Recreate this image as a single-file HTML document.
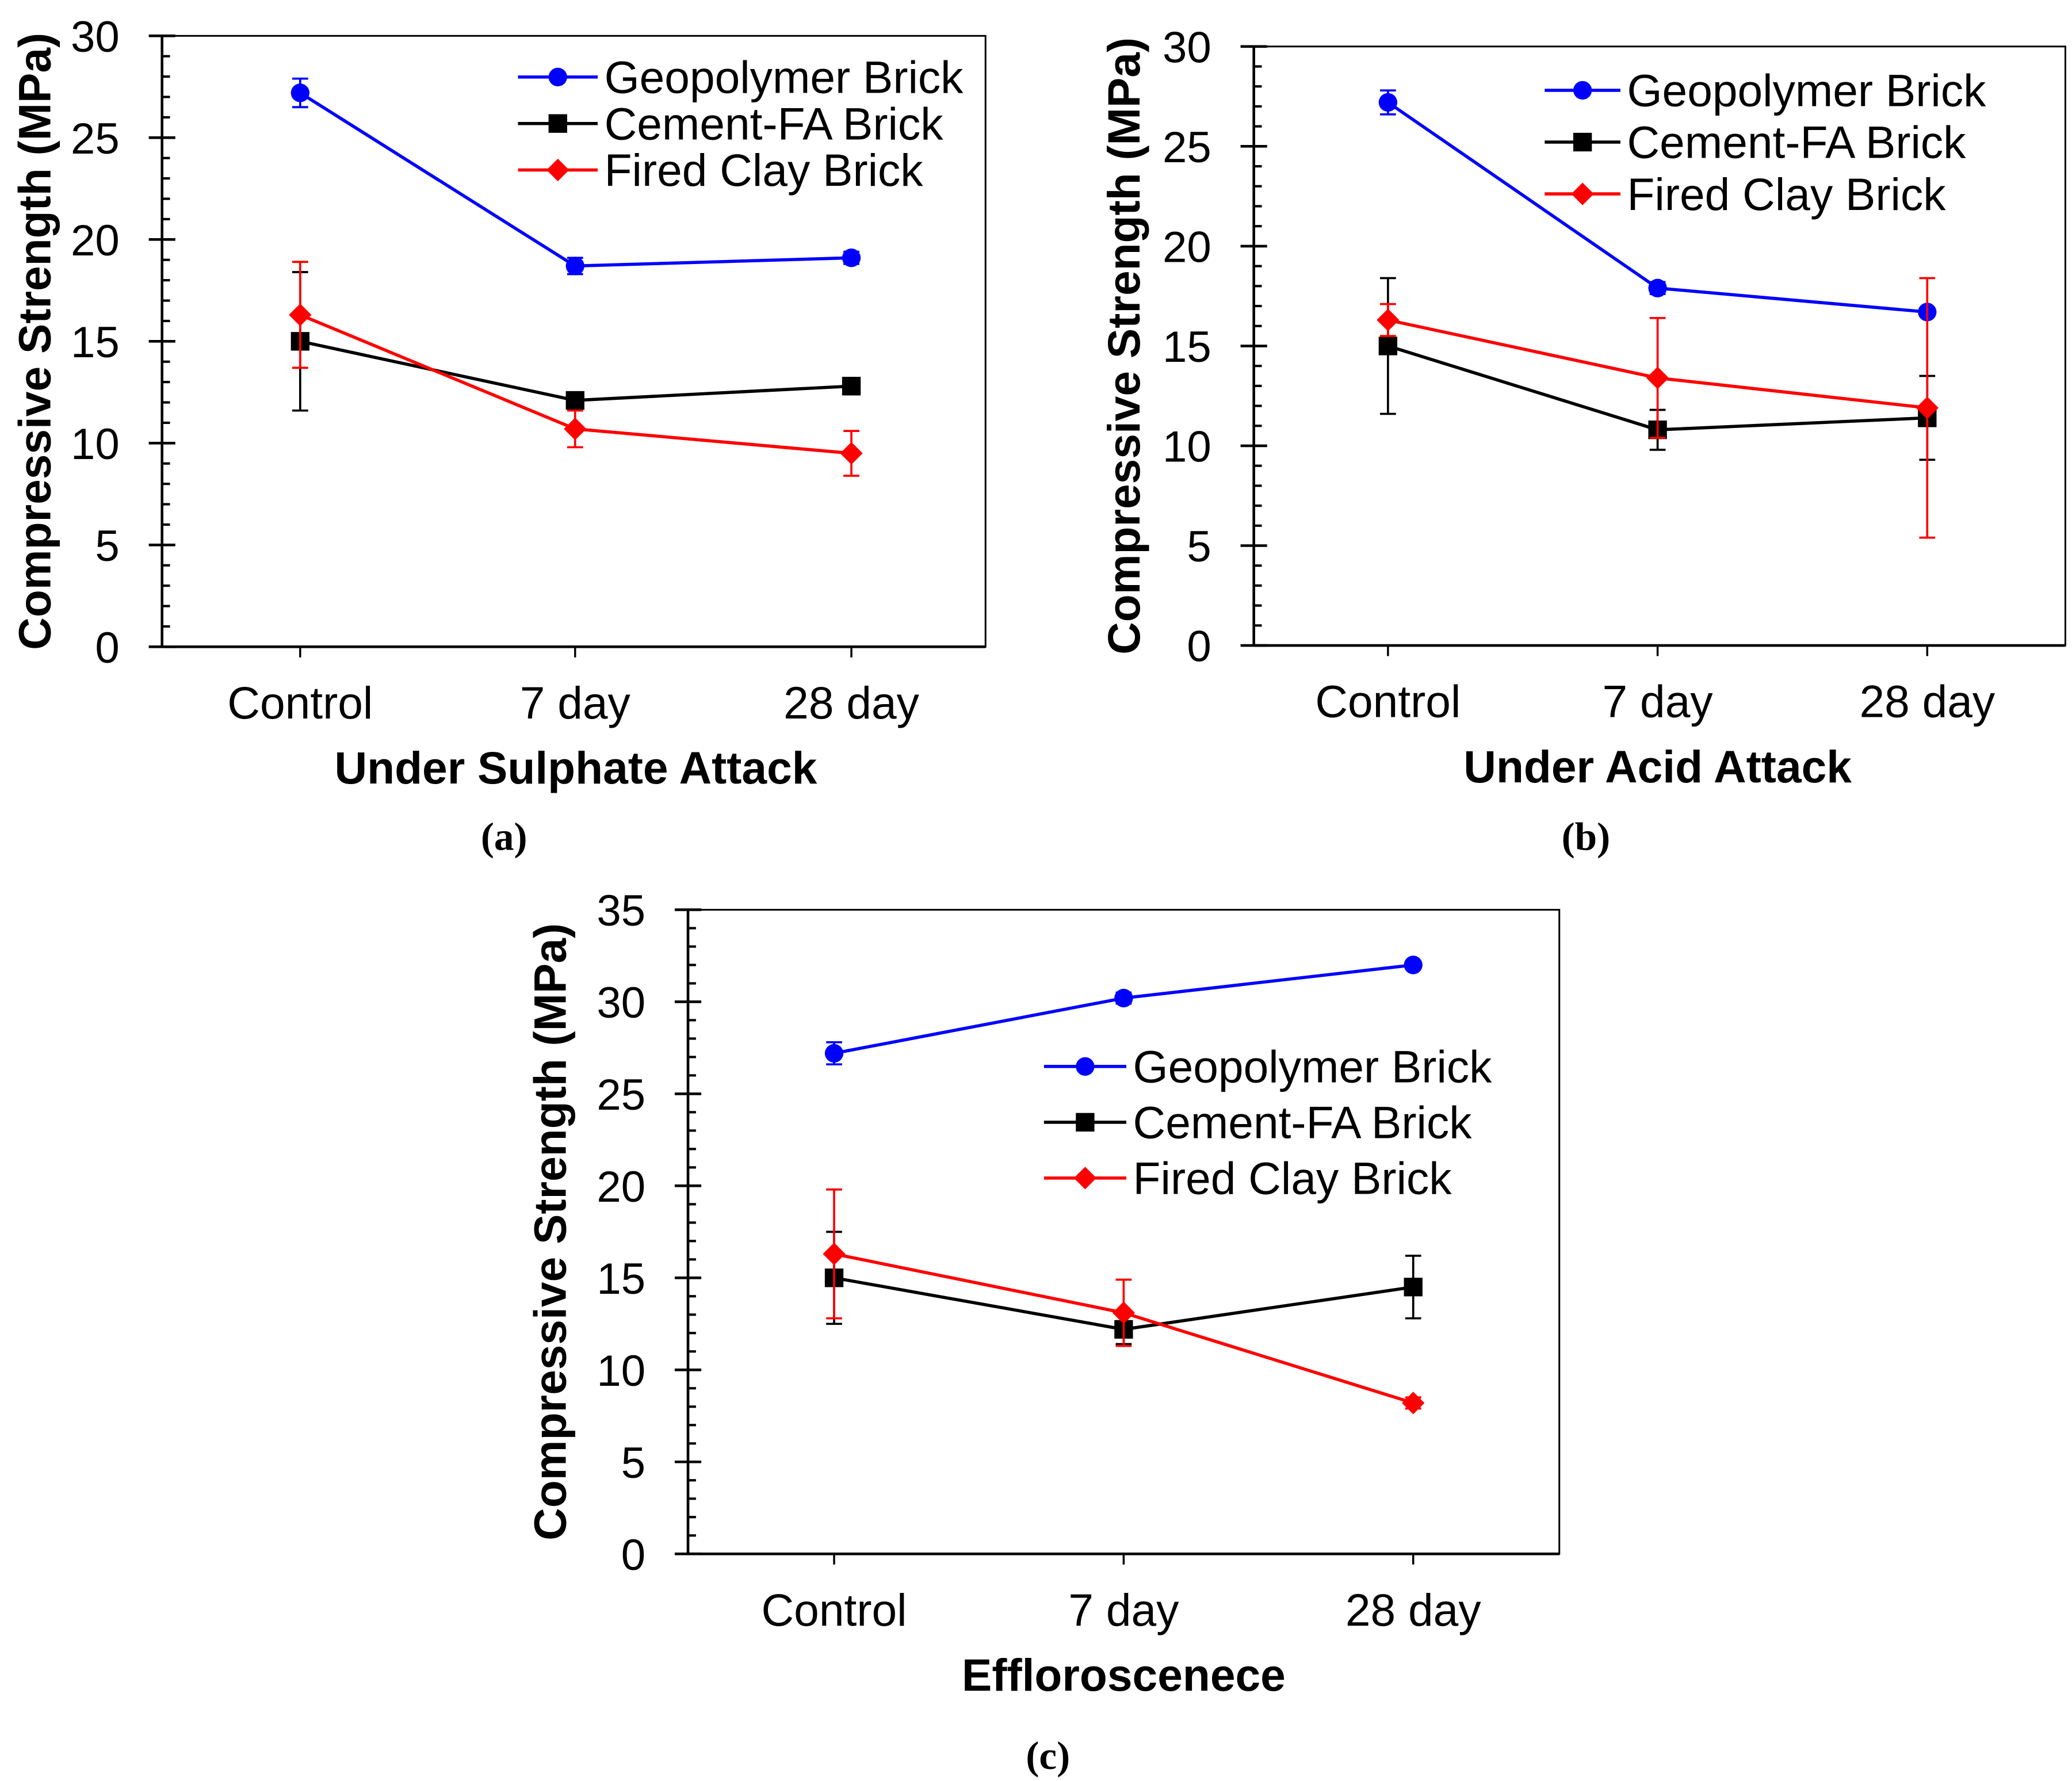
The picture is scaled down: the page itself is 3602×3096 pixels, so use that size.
<!DOCTYPE html>
<html><head><meta charset="utf-8">
<style>
html,body{margin:0;padding:0;background:#fff;}
svg{display:block;}
text{font-family:"Liberation Sans",Arial,sans-serif;}
</style></head>
<body>
<svg id="fig" width="3602" height="3096" viewBox="0 0 1560 1341" preserveAspectRatio="none" xmlns="http://www.w3.org/2000/svg"></svg>
<script>
const categories = ["Control","7 day","28 day"];
const seriesNames = ["Geopolymer Brick","Cement-FA Brick","Fired Clay Brick"];
// Panel a (sulphate)
const aGeo = [27.2,18.7,19.1];   const aGeoErr = [0.7,0.4,0.3];
const aCem = [15.0,12.1,12.8];   const aCemErr = [3.4,0.4,0.4];
const aClay = [16.3,10.7,9.5];   const aClayErr = [2.6,0.9,1.1];
// Panel b (acid)
const bGeo = [27.2,17.9,16.7];   const bGeoErr = [0.6,0.3,0.2];
const bCem = [15.0,10.8,11.4];   const bCemErr = [3.4,1.0,2.1];
const bClay = [16.3,13.4,11.9];  const bClayErr = [0.8,3.0,6.5];
// Panel c (efflorescence)
const cGeo = [27.2,30.2,32.0];   const cGeoErr = [0.6,0.3,0.2];
const cCem = [15.0,12.2,14.5];   const cCemErr = [2.5,0.8,1.7];
const cClay = [16.3,13.1,8.2];   const cClayErr = [3.5,1.8,0.3];
const ticksA = [0,5,10,15,20,25,30];
const ticksC = [0,5,10,15,20,25,30,35];

const NS="http://www.w3.org/2000/svg";
const svg=document.getElementById('fig');
function el(tag,attrs,parent){const e=document.createElementNS(NS,tag);for(const k in attrs)e.setAttribute(k,attrs[k]);(parent||svg).appendChild(e);return e;}
const colors=["#0000ff","#000000","#ff0000"];

function panel(cfg){
  const g=el('g',{});
  
  
  const {x0,x1,y0,y1,ymax,cats,ticks}=cfg;
  const Y=v=>y0-(v/ymax)*(y0-y1);
  const fr=el('rect',{x:x0,y:y1,width:x1-x0,height:y0-y1,fill:'none',stroke:'#000','stroke-width':1.3},g);
  
  el('line',{x1:x0,x2:x0,y1:y1,y2:y0,stroke:'#000','stroke-width':2},g);
  el('line',{x1:x0,x2:x1,y1:y0,y2:y0,stroke:'#000','stroke-width':2},g);
  ticks.forEach(t=>{
    el('line',{x1:x0-10,x2:x0+10,y1:Y(t),y2:Y(t),stroke:'#000','stroke-width':2},g);
    const tx=el('text',{x:x0-32,y:Y(t)+12,'font-size':33,'text-anchor':'end'},g);tx.textContent=t;
    
  });
  for(let t=1;t<ymax;t++){ if(t%5) el('line',{x1:x0,x2:x0+6,y1:Y(t),y2:Y(t),stroke:'#000','stroke-width':1.8},g);}
  cats.forEach((cx,i)=>{
    el('line',{x1:cx,x2:cx,y1:y0,y2:y0+8,stroke:'#000','stroke-width':1.5},g);
    const tx=el('text',{x:cx,y:y0+54,'font-size':34,'text-anchor':'middle'},g);tx.textContent=categories[i];
    
  });
  const yt=el('text',{transform:`translate(${cfg.ytx},${(y0+y1)/2}) rotate(-90)`,'font-size':34,'font-weight':'bold','text-anchor':'middle'},g);
  yt.textContent='Compressive Strength (MPa)';
  
  const xt=el('text',{x:(cats[0]+cats[2])/2,y:y0+103,'font-size':34,'font-weight':'bold','text-anchor':'middle'},g);
  xt.textContent=cfg.xtitle;
  
  const cap=el('text',{x:(cats[0]+cats[2])/2 + (cfg.capDx||0),y:cfg.capY,'font-size':30,'font-weight':'bold','text-anchor':'middle'},g);
  cap.textContent=cfg.cap; cap.style.fontFamily='"Liberation Serif",serif';
  
  cfg.series.forEach((s,si)=>{
    const c=colors[si];
    const pts=s.v.map((v,i)=>cats[i]+','+Y(v)).join(' ');
    const pl=el('polyline',{points:pts,fill:'none',stroke:c,'stroke-width':2.4},g);
    
    s.v.forEach((v,i)=>{
      const e=s.e[i],cx=cats[i];
      if(e>0.25){
        el('line',{x1:cx,x2:cx,y1:Y(v-e),y2:Y(v+e),stroke:c,'stroke-width':1.6},g);
        el('line',{x1:cx-6,x2:cx+6,y1:Y(v-e),y2:Y(v-e),stroke:c,'stroke-width':1.6},g);
        el('line',{x1:cx-6,x2:cx+6,y1:Y(v+e),y2:Y(v+e),stroke:c,'stroke-width':1.6},g);
      }
      marker(g,si,cx,Y(v));
    });
  });
  cfg.series.forEach((s,si)=>{
    const ly=cfg.ly+si*cfg.ldy;
    el('line',{x1:cfg.lx,x2:cfg.lx+cfg.lw,y1:ly,y2:ly,stroke:colors[si],'stroke-width':2.4},g);
    marker(g,si,cfg.lx+cfg.lw/2,ly);
    const t=el('text',{x:cfg.lx+cfg.lw+5,y:ly+12,'font-size':34},g);t.textContent=seriesNames[si];
    
  });
}
function marker(g,si,x,y){
  let m;
  if(si===0) m=el('circle',{cx:x,cy:y,r:7,fill:colors[0]},g);
  else if(si===1) m=el('rect',{x:x-7,y:y-7,width:14,height:14,fill:'#000'},g);
  else m=el('polygon',{points:`${x},${y-8.5} ${x+8.5},${y} ${x},${y+8.5} ${x-8.5},${y}`,fill:colors[2]},g);
  
}
panel({name:'chart-a',x0:122,x1:742,y0:487,y1:27,ymax:30,ticks:ticksA,cats:[226,433,641],ytx:38,
  xtitle:'Under Sulphate Attack',cap:'(a)',capY:640,capDx:-54,lx:390,lw:60,ly:58,ldy:35,
  series:[{v:aGeo,e:aGeoErr},{v:aCem,e:aCemErr},{v:aClay,e:aClayErr}]});
panel({name:'chart-b',x0:944,x1:1555,y0:486,y1:35,ymax:30,ticks:ticksA,cats:[1045,1248,1451],ytx:858,
  xtitle:'Under Acid Attack',cap:'(b)',capY:640,capDx:-54,lx:1163,lw:57,ly:68,ldy:39,
  series:[{v:bGeo,e:bGeoErr},{v:bCem,e:bCemErr},{v:bClay,e:bClayErr}]});
panel({name:'chart-c',x0:518,x1:1174,y0:1170,y1:685,ymax:35,ticks:ticksC,cats:[628,846,1064],ytx:426,
  xtitle:'Effloroscenece',cap:'(c)',capY:1332,capDx:-57,lx:786,lw:62,ly:803,ldy:42,
  series:[{v:cGeo,e:cGeoErr},{v:cCem,e:cCemErr},{v:cClay,e:cClayErr}]});
</script>
</body></html>
